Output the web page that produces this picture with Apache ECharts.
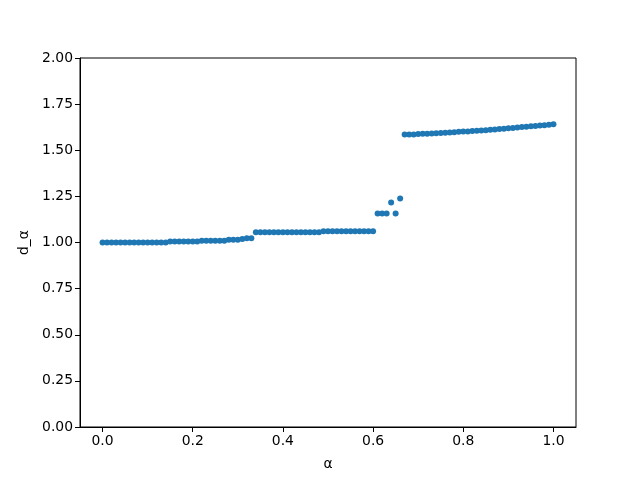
<!DOCTYPE html>
<html>
<head>
<meta charset="utf-8">
<script src="https://cdn.jsdelivr.net/npm/echarts@6/dist/echarts.min.js"></script>
<style>
  html, body { margin: 0; padding: 0; background: #fff; }
  #chart { width: 640px; height: 480px; }
</style>
</head>
<body>
<div id="chart"></div>
<script>
// alpha values 0.00 .. 1.00
const alphas = [
  0.00, 0.01, 0.02, 0.03, 0.04, 0.05, 0.06, 0.07, 0.08, 0.09,
  0.10, 0.11, 0.12, 0.13, 0.14, 0.15, 0.16, 0.17, 0.18, 0.19,
  0.20, 0.21, 0.22, 0.23, 0.24, 0.25, 0.26, 0.27, 0.28, 0.29,
  0.30, 0.31, 0.32, 0.33, 0.34, 0.35, 0.36, 0.37, 0.38, 0.39,
  0.40, 0.41, 0.42, 0.43, 0.44, 0.45, 0.46, 0.47, 0.48, 0.49,
  0.50, 0.51, 0.52, 0.53, 0.54, 0.55, 0.56, 0.57, 0.58, 0.59,
  0.60, 0.61, 0.62, 0.63, 0.64, 0.65, 0.66, 0.67, 0.68, 0.69,
  0.70, 0.71, 0.72, 0.73, 0.74, 0.75, 0.76, 0.77, 0.78, 0.79,
  0.80, 0.81, 0.82, 0.83, 0.84, 0.85, 0.86, 0.87, 0.88, 0.89,
  0.90, 0.91, 0.92, 0.93, 0.94, 0.95, 0.96, 0.97, 0.98, 0.99,
  1.00
]

const dAlpha = [
  1.000, 1.000, 1.000, 1.000, 1.000, 1.000, 1.000, 1.000, 1.000, 1.000,
  1.000, 1.000, 1.000, 1.000, 1.000, 1.006, 1.006, 1.006, 1.006, 1.006,
  1.006, 1.006, 1.010, 1.010, 1.010, 1.010, 1.010, 1.010, 1.015, 1.015,
  1.015, 1.019, 1.023, 1.023, 1.055, 1.055, 1.055, 1.055, 1.055, 1.055,
  1.055, 1.055, 1.055, 1.055, 1.055, 1.055, 1.055, 1.055, 1.055, 1.061,
  1.061, 1.061, 1.061, 1.061, 1.061, 1.061, 1.061, 1.061, 1.061, 1.061,
  1.061, 1.157, 1.157, 1.157, 1.217, 1.157, 1.239, 1.585, 1.585, 1.586,
  1.588, 1.590, 1.590, 1.591, 1.592, 1.594, 1.595, 1.596, 1.598, 1.600,
  1.601, 1.602, 1.604, 1.606, 1.607, 1.609, 1.611, 1.613, 1.615, 1.617,
  1.619, 1.621, 1.623, 1.626, 1.628, 1.630, 1.632, 1.634, 1.636, 1.638,
  1.641
]

const xTicks = [0, 0.2, 0.4, 0.6, 0.8, 1.0]
const yTicks = [0, 0.25, 0.5, 0.75, 1.0, 1.25, 1.5, 1.75, 2.0]

const chart = echarts.init(document.getElementById('chart'))

const axisFont = { fontFamily: 'DejaVu Sans', fontSize: 13.9, color: '#000' }

chart.setOption({
  animation: false,
  grid: {
    left: 80,
    right: 64,
    top: 58,
    bottom: 53,
    show: true,
    borderColor: '#000',
    borderWidth: 1,
    backgroundColor: '#fff'
  },
  xAxis: {
    type: 'value',
    min: -0.05,
    max: 1.05,
    name: 'α',
    nameLocation: 'middle',
    nameGap: 30,
    nameTextStyle: axisFont,
    axisLine: { show: true, onZero: false, lineStyle: { color: '#000', width: 1 } },
    axisTick: { show: true, length: 5, customValues: xTicks, lineStyle: { color: '#000' } },
    axisLabel: {
      ...axisFont,
      margin: 7,
      customValues: xTicks,
      formatter: v => v.toFixed(1)
    },
    splitLine: { show: false }
  },
  yAxis: {
    type: 'value',
    min: 0,
    max: 2,
    interval: 0.25,
    name: 'd_α',
    nameLocation: 'middle',
    nameGap: 47,
    nameTextStyle: axisFont,
    axisLine: { show: true, onZero: false, lineStyle: { color: '#000', width: 1 } },
    axisTick: { show: true, length: 5, lineStyle: { color: '#000' } },
    axisLabel: {
      ...axisFont,
      margin: 7,
      formatter: v => v.toFixed(2)
    },
    splitLine: { show: false }
  },
  series: [
    {
      type: 'scatter',
      data: alphas.map((a, i) => [a, dAlpha[i]]),
      symbolSize: 6,
      itemStyle: { color: '#1f77b4', opacity: 1 }
    }
  ]
})
</script>
</body>
</html>
